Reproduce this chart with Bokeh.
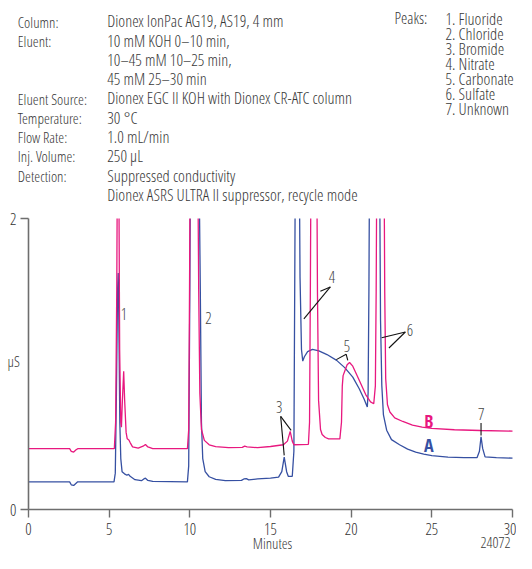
from bokeh.plotting import figure
from bokeh.models import Label, FixedTicker, Range1d
from bokeh.embed import file_html
from bokeh.resources import INLINE

# ---------------- data ----------------
x_ticks = [0, 5, 10, 15, 20, 25, 30]
y_ticks = [0, 2]

a_time = [0.0, 2.55, 2.65, 2.8, 2.95, 3.05, 5.3, 5.38, 5.45, 5.52, 5.56, 5.6, 5.66, 5.72, 5.8,
          5.95, 6.1, 6.2, 6.3, 6.6, 7.0, 7.15, 7.25, 7.4, 7.7, 9.85, 9.93, 10.0, 10.05, 10.3,
          10.55, 10.65, 10.72, 10.8, 10.95, 11.2, 11.6, 12.2, 13.2, 13.35, 13.5, 13.65, 14.2,
          15.0, 15.5, 15.7, 15.85, 16.0, 16.1, 16.35, 16.45, 16.5, 16.55, 16.7, 16.78, 16.83,
          16.92, 17.0, 17.1, 17.3, 17.6, 18.0, 18.5, 19.1, 19.6, 20.1, 20.5, 20.8, 21.0, 21.05,
          21.1, 21.15, 21.45, 21.75, 21.82, 21.9, 22.0, 22.2, 22.5, 23.0, 23.5, 24.0, 24.5,
          25.0, 26.0, 27.0, 27.8, 27.95, 28.05, 28.15, 28.3, 29.0, 30.0]
a_signal = [0.19, 0.19, 0.17, 0.165, 0.18, 0.19, 0.19, 0.25, 0.8, 1.5, 1.625, 1.3, 0.6, 0.35, 0.26,
            0.245, 0.235, 0.242, 0.228, 0.205, 0.198, 0.21, 0.215, 0.2, 0.193, 0.19, 0.3, 1.5, 2.6, 3.0,
            2.6, 1.5, 0.6, 0.35, 0.26, 0.225, 0.207, 0.198, 0.2, 0.21, 0.212, 0.204, 0.21,
            0.215, 0.222, 0.26, 0.36, 0.26, 0.228, 0.228, 0.4, 1.5, 2.6, 3.0, 2.5, 1.6,
            1.1, 1.02, 1.05, 1.085, 1.10, 1.09, 1.065, 1.025, 0.975, 0.91, 0.83, 0.76, 0.705, 0.8,
            1.5, 2.6, 3.0, 2.6, 1.3, 0.85, 0.65, 0.545, 0.48, 0.445, 0.415, 0.395, 0.38,
            0.37, 0.36, 0.357, 0.356, 0.4, 0.5, 0.42, 0.362, 0.356, 0.353]

b_time = [0.0, 2.55, 2.65, 2.8, 2.95, 3.05, 5.32, 5.4, 5.47, 5.52, 5.56, 5.6, 5.65, 5.72, 5.76,
          5.82, 5.9, 5.96, 6.05, 6.12, 6.22, 6.3, 6.45, 6.8, 7.1, 7.25, 7.4, 7.7, 9.85, 9.93,
          9.98, 10.03, 10.25, 10.48, 10.55, 10.62, 10.72, 10.9, 11.2, 11.6, 12.4, 13.25, 13.4,
          13.55, 14.2, 15.0, 15.8, 16.05, 16.22, 16.35, 16.45, 17.35, 17.42, 17.47, 17.52, 17.7,
          17.86, 17.91, 17.98, 18.1, 18.2, 18.4, 18.6, 19.3, 19.4, 19.45, 19.5, 19.6, 19.75,
          19.9, 20.1, 20.5, 20.9, 21.2, 21.4, 21.5, 21.55, 21.6, 21.85, 22.03, 22.08, 22.14,
          22.25, 22.4, 22.7, 23.2, 23.8, 24.4, 25.0, 26.4, 28.0, 30.0]
b_signal = [0.418, 0.418, 0.40, 0.395, 0.41, 0.418, 0.418, 0.6, 1.5, 2.6, 3.0, 2.3, 1.1, 0.6, 0.566,
            0.75, 0.95, 0.75, 0.53, 0.486, 0.478, 0.46, 0.43, 0.422, 0.435, 0.447, 0.43, 0.419, 0.418, 0.55,
            1.5, 2.6, 3.0, 2.6, 1.5, 0.8, 0.55, 0.475, 0.445, 0.432, 0.425, 0.427, 0.435,
            0.43, 0.425, 0.433, 0.445, 0.47, 0.537, 0.47, 0.445, 0.448, 0.6, 1.5, 2.6, 3.0,
            2.6, 1.5, 0.75, 0.55, 0.515, 0.495, 0.486, 0.485, 0.6, 0.85, 0.92, 0.95, 0.995,
            1.01, 0.985, 0.888, 0.79, 0.74, 0.727, 0.85, 1.5, 2.6, 3.0, 2.6, 1.5, 0.9,
            0.72, 0.67, 0.63, 0.605, 0.58, 0.566, 0.557, 0.548, 0.543, 0.539]

peak_names = ["1. Fluoride", "2. Chloride", "3. Bromide", "4. Nitrate",
              "5. Carbonate", "6. Sulfate", "7. Unknown"]
cond_labels = ["Column:", "Eluent:", "", "", "Eluent Source:", "Temperature:",
               "Flow Rate:", "Inj. Volume:", "Detection:", ""]
cond_values = ["Dionex IonPac AG19, AS19, 4 mm", "10 mM KOH 0\u201310 min,",
               "10\u201345 mM 10\u201325 min,", "45 mM 25\u201330 min",
               "Dionex EGC II KOH with Dionex CR-ATC column", "30 \u00b0C",
               "1.0 mL/min", "250 \u00b5L", "Suppressed conductivity",
               "Dionex ASRS ULTRA II suppressor, recycle mode"]

# ---------------- layout helpers ----------------
W, H = 516, 553
FL, FR, FT, FB = 28.0, 512.0, 218.0, 509.0          # plot area on the canvas (px)
def cx(px):   # canvas px -> minutes
    return (px - FL) * 30.0 / (FR - FL)
def cy(py):   # canvas px -> uS
    return (FB - py) * 2.0 / (FB - FT)
def rx(px):   # reference-plot px -> minutes (for marks inside the plot)
    return (px - 28.3) * 30.0 / 490.0

FONT = "'Open Sans Condensed Light', 'Liberation Sans', sans-serif"
BOLD = "'Open Sans Condensed', 'Liberation Sans', sans-serif"
BLUE = "#3650a2"
PINK = "#e8187f"
TXT = "#383838"

p = figure(width=W, height=H,
           x_range=Range1d(cx(0), cx(W)), y_range=Range1d(cy(H), cy(0)),
           output_backend="svg", toolbar_location=None,
           min_border_left=0, min_border_right=0, min_border_top=0, min_border_bottom=0)
p.outline_line_color = None
p.xgrid.visible = False
p.ygrid.visible = False

for ax, tk, bd in ((p.xaxis, x_ticks, (0, 30)), (p.yaxis, y_ticks, (0, 2))):
    ax.fixed_location = 0
    ax.bounds = bd
    ax.ticker = FixedTicker(ticks=tk)
    ax.axis_line_color = "#6e6e6e"
    ax.axis_line_width = 1.6
    ax.major_tick_line_color = "#6e6e6e"
    ax.major_tick_line_width = 1.4
    ax.major_tick_in = 0
    ax.major_tick_out = 8
    ax.minor_tick_line_color = None
    ax.major_label_text_font = FONT
    ax.major_label_text_font_size = "16px"
    ax.major_label_text_color = "#333333"
p.xaxis.major_label_standoff = 5
p.yaxis.major_label_standoff = 4

p.line(a_time, a_signal, line_color=BLUE, line_width=1.3)
p.line(b_time, b_signal, line_color=PINK, line_width=1.3)
# off-scale peak tops are hidden above the 2 uS limit
p.quad(left=cx(0), right=cx(W), bottom=2, top=cy(0), fill_color="white", line_color=None)

def lab(x, base_px, text, size=15, color=TXT, align="left", font=FONT, style="normal"):
    # base_px: wanted visual baseline on the canvas; the renderer draws ~0.42 em lower
    y = cy(base_px - 0.42 * size)
    p.add_layout(Label(x=x, y=y, text=text, text_font=font,
                       text_font_size=f"{size}px", text_color=color, text_align=align,
                       text_baseline="alphabetic", text_font_style=style))

# header (canvas px)
for i, (l, v) in enumerate(zip(cond_labels, cond_values)):
    by = 27.3 + i * 19.27
    if l:
        lab(cx(17.3), by, l, size=15)
    lab(cx(106.7), by, v, size=16.5)

lab(cx(394), 24.7, "Peaks:", size=16)
for i, n in enumerate(peak_names):
    lab(cx(445), 24.7 + i * 15.1, n, size=16.5)

lab(cx(7), 366.5, "\u00b5S", size=15)
lab(cx(272), 549, "Minutes", size=15, align="center")
lab(cx(510), 548, "24072", size=15, align="right")

# peak numbers
NUM = "#444444"
lab(rx(121.7), 320.0, "1", size=16, color=NUM)
lab(rx(207.3), 324.0, "2", size=16, color=NUM)
lab(rx(282.0), 413.3, "3", size=16, color=NUM, align="center")
lab(rx(335.5), 283.3, "4", size=16, color=NUM, align="center")
lab(rx(350.7), 352.7, "5", size=16, color=NUM, align="center")
lab(rx(414.5), 336.7, "6", size=16, color=NUM, align="center")
lab(rx(486.7), 420.0, "7", size=16, color=NUM, align="center")
lab(rx(433.5), 427.7, "B", size=18, color=PINK, align="center", font=BOLD, style="bold")
lab(rx(433.5), 451.7, "A", size=18, color=BLUE, align="center", font=BOLD, style="bold")

# leader lines (minutes / uS)
lead_x0 = [15.63, 15.63, 18.71, 18.71, 19.69, 19.69, 23.36, 23.36, 28.05]
lead_y0 = [0.64, 0.64, 1.53, 1.53, 1.067, 1.067, 1.22, 1.22, 0.594]
lead_x1 = [15.85, 16.28, 17.07, 18.09, 19.08, 19.79, 21.89, 22.34, 28.05]
lead_y1 = [0.372, 0.544, 1.31, 1.50, 1.03, 1.025, 1.18, 1.11, 0.509]
p.segment(x0=lead_x0, y0=lead_y0, x1=lead_x1, y1=lead_y1, line_color="#111111", line_width=1.1)

open("out.html", "w").write(file_html(p, INLINE))
